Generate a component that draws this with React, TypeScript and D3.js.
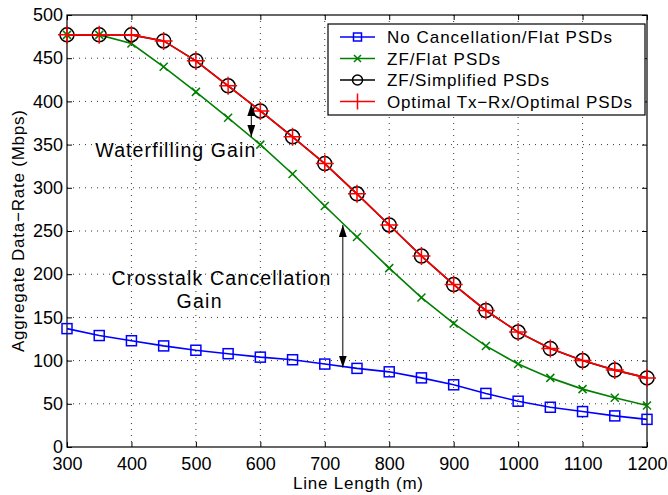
import React, { useEffect, useRef } from "react";
import * as d3 from "d3";

const lengths = [300, 350, 400, 450, 500, 550, 600, 650, 700, 750, 800, 850, 900, 950, 1000, 1050, 1100, 1150, 1200];
const noCancel = [137, 129, 123, 117, 112, 108, 104, 101, 96, 91, 87, 80, 72, 62, 53, 46, 41, 36, 32];
const zfFlat = [477, 477, 467, 440, 411, 381, 350, 316, 279, 243, 207, 173, 143, 117, 96, 80, 67, 57, 48];
const zfSimplified = [477, 477, 477, 470, 447, 418, 389, 359, 328, 293, 257, 221, 188, 158, 133, 114, 100, 89, 80];
const optimal = [477, 477, 477, 470, 447, 418, 389, 359, 328, 293, 257, 221, 188, 158, 133, 114, 100, 89, 80];
const xTicks = [300, 400, 500, 600, 700, 800, 900, 1000, 1100, 1200];
const yTicks = [0, 50, 100, 150, 200, 250, 300, 350, 400, 450, 500];
const legendNames = ["No Cancellation/Flat PSDs", "ZF/Flat PSDs", "ZF/Simplified PSDs", "Optimal Tx\u2212Rx/Optimal PSDs"];
const legendWidths = [225, 113, 162, 245];

const FONT = "'Liberation Sans', Arial, Helvetica, sans-serif";

function App() {
  const ref = useRef<SVGSVGElement>(null);

  useEffect(() => {
    const svg = d3.select(ref.current);
    svg.selectAll("*").remove();
    const margin = { top: 15, right: 21, bottom: 48, left: 67 };
    const W = 668, H = 495;
    const w = W - margin.left - margin.right;
    const h = H - margin.top - margin.bottom;
    const g = svg.append("g").attr("transform", `translate(${margin.left},${margin.top})`);

    const x = d3.scaleLinear().domain([300, 1200]).range([0, w]);
    const y = d3.scaleLinear().domain([0, 500]).range([h, 0]);

    // grid
    g.selectAll(".gx").data(xTicks.slice(1, -1)).join("line")
      .attr("x1", d => x(d)).attr("x2", d => x(d)).attr("y1", 0).attr("y2", h)
      .attr("stroke", "#000").attr("stroke-width", 0.8).attr("stroke-dasharray", "1,5");
    g.selectAll(".gy").data(yTicks.slice(1, -1)).join("line")
      .attr("y1", d => y(d)).attr("y2", d => y(d)).attr("x1", 0).attr("x2", w)
      .attr("stroke", "#000").attr("stroke-width", 0.8).attr("stroke-dasharray", "1,5");

    // axes (inward ticks, matlab-like)
    const ax = (sel: any) => sel.selectAll("text").attr("font-family", FONT).attr("font-size", 18).attr("fill", "#000");
    g.append("g").attr("transform", `translate(0,${h})`)
      .call(d3.axisBottom(x).tickValues(xTicks).tickSizeInner(-5).tickSizeOuter(0).tickPadding(10).tickFormat(d3.format("d")))
      .call(ax).call((s: any) => s.select(".domain").remove());
    g.append("g").call(d3.axisTop(x).tickValues(xTicks).tickSizeInner(-5).tickSizeOuter(0).tickFormat(() => ""))
      .call((s: any) => s.select(".domain").remove());
    g.append("g")
      .call(d3.axisLeft(y).tickValues(yTicks).tickSizeInner(-5).tickSizeOuter(0).tickPadding(4))
      .call(ax).call((s: any) => s.select(".domain").remove());
    g.append("g").attr("transform", `translate(${w},0)`)
      .call(d3.axisRight(y).tickValues(yTicks).tickSizeInner(-5).tickSizeOuter(0).tickFormat(() => ""))
      .call((s: any) => s.select(".domain").remove());
    g.append("rect").attr("width", w).attr("height", h).attr("fill", "none").attr("stroke", "#000").attr("stroke-width", 1.2);

    const line = d3.line<number>().x((_, i) => x(lengths[i])).y(d => y(d));

    const series = [
      { vals: noCancel, color: "#0000ff", marker: "square" },
      { vals: zfFlat, color: "#008000", marker: "x" },
      { vals: zfSimplified, color: "#000000", marker: "circle" },
      { vals: optimal, color: "#ff0000", marker: "plus" },
    ];

    const drawMarker = (sel: any, type: string, color: string) => {
      if (type === "square") {
        sel.append("rect").attr("x", -5).attr("y", -5).attr("width", 10).attr("height", 10)
          .attr("fill", "none").attr("stroke", color).attr("stroke-width", 1.5);
      } else if (type === "x") {
        sel.append("path").attr("d", "M-4,-4L4,4M-4,4L4,-4").attr("stroke", color).attr("stroke-width", 1.5);
      } else if (type === "circle") {
        sel.append("circle").attr("r", 7).attr("fill", "none").attr("stroke", color).attr("stroke-width", 1.5);
      } else {
        sel.append("path").attr("d", "M-9,0L9,0M0,-9L0,9").attr("stroke", color).attr("stroke-width", 1.5);
      }
    };

    series.forEach(s => {
      g.append("path").attr("d", line(s.vals)).attr("fill", "none").attr("stroke", s.color).attr("stroke-width", 1.6);
      s.vals.forEach((v, i) => {
        const m = g.append("g").attr("transform", `translate(${x(lengths[i])},${y(v)})`);
        drawMarker(m, s.marker, s.color);
      });
    });

    // arrows
    const defs = svg.append("defs");
    defs.append("marker").attr("id", "ah").attr("viewBox", "0 0 12 8").attr("refX", 12).attr("refY", 4)
      .attr("markerWidth", 12).attr("markerHeight", 8).attr("markerUnits", "userSpaceOnUse").attr("orient", "auto-start-reverse")
      .append("path").attr("d", "M0,0L12,4L0,8Z").attr("fill", "#000");
    const arrow = (xv: number, y1: number, y2: number) => {
      g.append("line").attr("x1", x(xv)).attr("x2", x(xv)).attr("y1", y(y1)).attr("y2", y(y2))
        .attr("stroke", "#000").attr("stroke-width", 1)
        .attr("marker-start", "url(#ah)").attr("marker-end", "url(#ah)");
    };
    arrow(586, 397, 359);
    arrow(728, 257, 92);

    const txt = (tx: number, ty: number, s: string, size: number, len: number, anchor = "start") =>
      g.append("text").attr("x", tx).attr("y", ty).attr("font-family", FONT).attr("font-size", size)
        .attr("text-anchor", anchor).attr("fill", "#000")
        .attr("textLength", len).attr("lengthAdjust", "spacing").text(s);
    // annotation positions in data units
    txt(x(344), y(336), "Waterfilling Gain", 19.5, 160);
    txt(x(369), y(188), "Crosstalk Cancellation", 19.5, 219);
    txt(x(470), y(161), "Gain", 19.5, 45);

    // labels
    g.append("text").attr("x", (293 + 423) / 2 - margin.left).attr("y", h + 42).attr("text-anchor", "middle")
      .attr("font-family", FONT).attr("font-size", 17).attr("textLength", 130).attr("lengthAdjust", "spacing")
      .text("Line Length (m)");
    g.append("text").attr("transform", "rotate(-90)").attr("x", -(231 - margin.top)).attr("y", -43).attr("text-anchor", "middle")
      .attr("font-family", FONT).attr("font-size", 17).attr("textLength", 242).attr("lengthAdjust", "spacing")
      .text("Aggregate Data\u2212Rate (Mbps)");

    // legend
    const lg = svg.append("g").attr("transform", "translate(328,24)");
    lg.append("rect").attr("width", 317).attr("height", 91).attr("fill", "#fff").attr("stroke", "#000").attr("stroke-width", 1.2);
    series.forEach((s, i) => {
      const yy = 13 + i * 21.5;
      lg.append("line").attr("x1", 12).attr("x2", 47).attr("y1", yy).attr("y2", yy).attr("stroke", s.color).attr("stroke-width", 1.6);
      const m = lg.append("g").attr("transform", `translate(29.5,${yy})`);
      if (s.marker === "square") {
        m.append("rect").attr("x", -4).attr("y", -4).attr("width", 8).attr("height", 8).attr("fill", "none").attr("stroke", s.color).attr("stroke-width", 1.5);
      } else if (s.marker === "x") {
        m.append("path").attr("d", "M-3.5,-3.5L3.5,3.5M-3.5,3.5L3.5,-3.5").attr("stroke", s.color).attr("stroke-width", 1.5);
      } else if (s.marker === "circle") {
        m.append("circle").attr("r", 5).attr("fill", "none").attr("stroke", s.color).attr("stroke-width", 1.5);
      } else {
        m.append("path").attr("d", "M0,-8L0,8").attr("stroke", s.color).attr("stroke-width", 1.5);
      }
      lg.append("text").attr("x", 59).attr("y", yy + 6).attr("font-family", FONT).attr("font-size", 17)
        .attr("textLength", legendWidths[i]).attr("lengthAdjust", "spacing").text(legendNames[i]);
    });
  }, []);

  return <svg ref={ref} width={668} height={495} style={{ position: "absolute", left: 0, top: 0, background: "#fff" }} />;
}

export default App;
